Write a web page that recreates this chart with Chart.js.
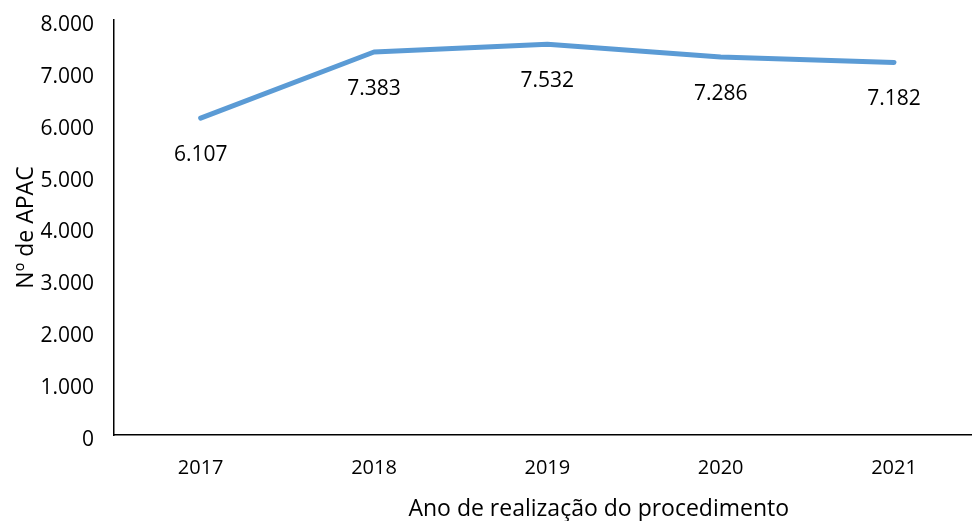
<!DOCTYPE html>
<html>
<head>
<meta charset="utf-8">
<script src="https://cdn.jsdelivr.net/npm/chart.js@4.4.1/dist/chart.umd.min.js"></script>
<style>
    html, body { margin: 0; padding: 0; background: #fff; }
    #wrap { width: 972px; height: 521px; position: relative; }
</style>
</head>
<body>
<div id="wrap"><canvas id="chart"></canvas></div>
<script>
// --- DATA ---
const years = [2017, 2018, 2019, 2020, 2021];
const apacCounts = [6107, 7383, 7532, 7286, 7182];
const yTicks = [0, 1000, 2000, 3000, 4000, 5000, 6000, 7000, 8000];

const xTitle = 'Ano de realização do procedimento';
const yTitle = 'Nº de APAC';

const FONT = "'Open Sans', sans-serif";
const LINE_BLUE = '#5B9BD5';

// 8000 -> "8.000"
const fmt = v => String(Math.round(v)).replace(/\B(?=(\d{3})+(?!\d))/g, '.');

// value labels drawn under each point
const pointLabels = {
    id: 'pointLabels',
    afterDatasetsDraw(chart) {
        const ctx = chart.ctx;
        const meta = chart.getDatasetMeta(0);
        ctx.save();
        ctx.font = `21px ${FONT}`;
        ctx.fillStyle = '#000';
        ctx.textAlign = 'center';
        ctx.textBaseline = 'middle';
        meta.data.forEach((pt, i) => {
            ctx.fillText(fmt(apacCounts[i]), pt.x, pt.y + 37);
        });
        ctx.restore();
    }
};

// x axis title, placed like the original (a bit right of centre)
const xAxisTitle = {
    id: 'xAxisTitle',
    afterDraw(chart) {
        const ctx = chart.ctx;
        const area = chart.chartArea;
        ctx.save();
        ctx.font = `23px ${FONT}`;
        ctx.fillStyle = '#000';
        ctx.textAlign = 'center';
        ctx.textBaseline = 'middle';
        ctx.fillText(xTitle, area.left + (area.right - area.left) * 0.565, area.bottom + 74);
        ctx.restore();
    }
};

new Chart(document.getElementById('chart'), {
    type: 'line',
    data: {
        datasets: [{
            data: years.map((y, i) => ({ x: y, y: apacCounts[i] })),
            borderColor: LINE_BLUE,
            borderWidth: 5,
            borderCapStyle: 'round',
            borderJoinStyle: 'round',
            pointRadius: 0,
            tension: 0,
            fill: false
        }]
    },
    options: {
        responsive: true,
        maintainAspectRatio: false,
        animation: false,
        layout: { padding: { top: 20, right: 0, left: 0, bottom: 0 } },
        plugins: { legend: { display: false }, tooltip: { enabled: false } },
        scales: {
            x: {
                type: 'linear',
                min: 2016.5,
                max: 2021.45,
                grid: { display: false, drawTicks: false },
                border: { display: true, color: '#000', width: 1.5 },
                afterBuildTicks: scale => { scale.ticks = years.map(v => ({ value: v })); },
                afterFit: scale => {
                    scale.height = 86;
                    scale.paddingLeft = 0;
                    scale.paddingRight = 0;
                },
                ticks: {
                    padding: 21,
                    color: '#000',
                    font: { family: FONT, size: 20 },
                    callback: v => String(v)
                }
            },
            y: {
                min: 0,
                max: 8000,
                grid: { display: false, drawTicks: false },
                border: { display: true, color: '#000', width: 1.5 },
                afterBuildTicks: scale => { scale.ticks = yTicks.map(v => ({ value: v })); },
                afterFit: scale => {
                    scale.width = 114;
                    scale.paddingTop = 0;
                    scale.paddingBottom = 0;
                },
                ticks: {
                    padding: 20,
                    labelOffset: 5,
                    color: '#000',
                    font: { family: FONT, size: 21 },
                    callback: v => fmt(v)
                },
                title: {
                    display: true,
                    text: yTitle,
                    color: '#000',
                    font: { family: FONT, size: 23 },
                    padding: { top: 13, bottom: 0 }
                }
            }
        }
    },
    plugins: [pointLabels, xAxisTitle]
});
</script>
</body>
</html>
